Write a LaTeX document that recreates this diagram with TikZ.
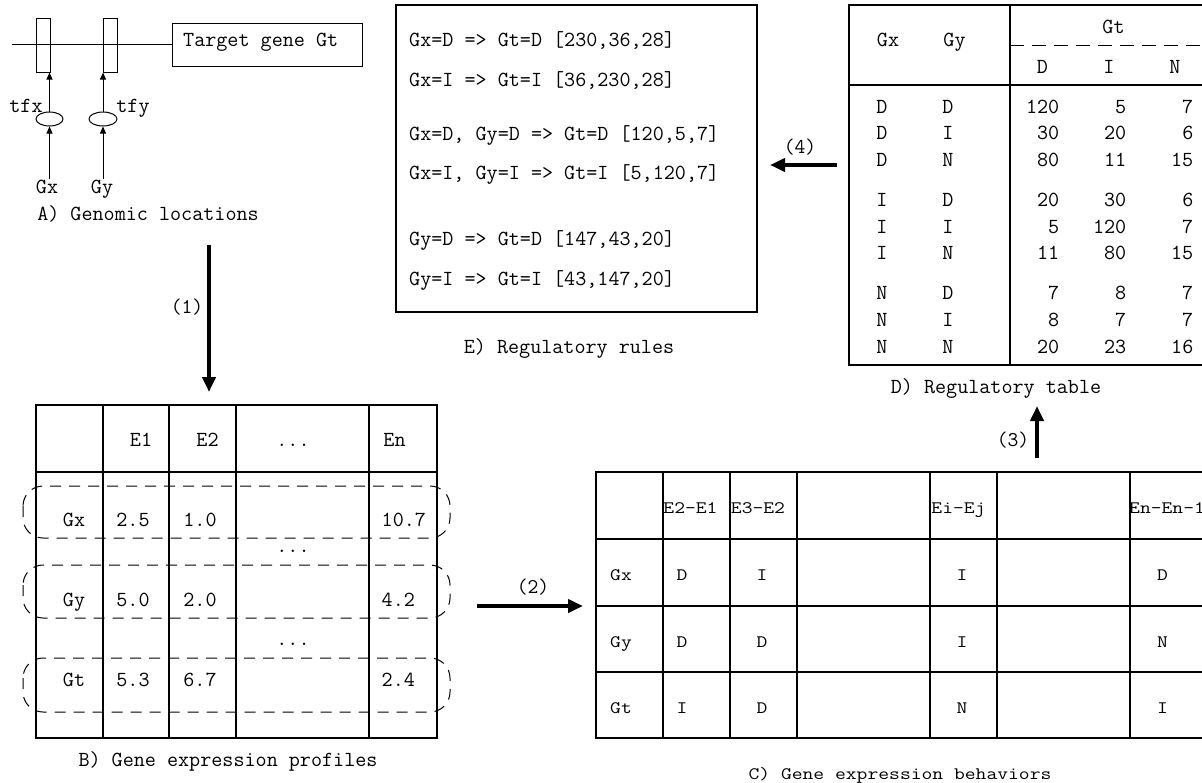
\documentclass[tikz,border=0pt]{standalone}
\usepackage{fontspec}
\setmonofont{Latin Modern Mono}
\newfontfamily\cmono[FakeStretch=1.2]{Latin Modern Mono}
\usetikzlibrary{arrows.meta,shapes.geometric}

\begin{document}
\begin{tikzpicture}[x=1pt,y=-1pt,
  lbl/.style={font=\ttfamily\fontsize{21.5}{25}\selectfont, inner sep=0pt, anchor=base},
  lblw/.style={lbl, anchor=base west},
  lble/.style={lbl, anchor=base east},
  clbl/.style={font=\cmono\fontsize{17.5}{21}\selectfont, inner sep=0pt, anchor=base},
  clblw/.style={clbl, anchor=base west},
  steplbl/.style={font=\ttfamily\fontsize{21}{25}\selectfont, inner sep=0pt, anchor=center},
  grid/.style={line width=1.3pt},
  thinline/.style={line width=1pt},
  bigarrow/.style={line width=4pt, -{Triangle[length=15pt,width=13pt]}},
  smallarrow/.style={line width=1pt, -{Triangle[length=7pt,width=6pt]}},
  rowgroup/.style={dash pattern=on 11pt off 8pt, line width=1pt, rounded corners=20pt},
  headdash/.style={dash pattern=on 14pt off 8pt, line width=1pt},
]
\useasboundingbox (0,0) rectangle (1202,782);
\fill[white] (0,0) rectangle (1202,782);
\clip (0,0) rectangle (1202,782);

% ---------- A) Genomic locations ----------
\node[draw, thinline, minimum width=190pt, minimum height=43pt, inner sep=0pt] (tgt) at (267,44.5) {};
\node[lbl] (tgtlabel) at (260.7,46) {Target gene Gt};
\coordinate (dnaL) at (12,44);
\draw[thinline] (dnaL) -- (dnaL -| tgt.west);
\node[draw, thinline, minimum width=14pt, minimum height=54pt, inner sep=0pt] (sitex) at (43,45) {};
\node[draw, thinline, minimum width=14pt, minimum height=54pt, inner sep=0pt] (sitey) at (110,45) {};
\node[draw, thinline, ellipse, minimum width=27pt, minimum height=14pt, inner sep=0pt] (tfxe) at (49.5,119) {};
\node[draw, thinline, ellipse, minimum width=28pt, minimum height=14pt, inner sep=0pt] (tfye) at (103,119) {};
\node[lbl] (tfx) at (26,112) {tfx};
\node[lbl] (tfy) at (133,112) {tfy};
\node[lbl] (gxa) at (47,193) {Gx};
\node[lbl] (gya) at (102,193) {Gy};
\draw[smallarrow] (gxa.north -| tfxe.south) -- (tfxe.south);
\draw[smallarrow] (tfxe.north) -- (tfxe.north |- sitex.south);
\draw[smallarrow] (gya.north -| tfye.south) -- (tfye.south);
\draw[smallarrow] (tfye.north) -- (tfye.north |- sitey.south);
\node[lbl] (capA) at (148,220) {A) Genomic locations};

% ---------- step (1) ----------
\coordinate (s1a) at (209,245);
\coordinate (s1b) at (209,392);
\draw[bigarrow] (s1a) -- (s1b);
\node[steplbl] (l1) at (187,307) {(1)};

% ---------- B) Gene expression profiles ----------
\draw[grid] (36,405) rectangle (437,738);
\draw[grid] (36,472) -- (437,472);
\foreach \x in {103,169,236,369} \draw[grid] (\x,405) -- (\x,738);
\draw[rowgroup] (23,486) rectangle (450,538);
\draw[rowgroup] (23,565) rectangle (450,618);
\draw[rowgroup] (23,658) rectangle (450,712);
\node[lbl] (be1) at (141,446) {E1};
\node[lbl] (be2) at (207.5,446) {E2};
\node[lbl] (bed) at (293,446) {...};
\node[lbl] (ben) at (394.5,446) {En};
\node[lbl] (bgx) at (74,526) {Gx};
\node[lbl] (bx1) at (133,526) {2.5};
\node[lbl] (bx2) at (200,526) {1.0};
\node[lblw] (bxn) at (381.5,526) {10.7};
\node[lbl] (bd1) at (293,552) {...};
\node[lbl] (bgy) at (74,606) {Gy};
\node[lbl] (by1) at (133,606) {5.0};
\node[lbl] (by2) at (200,606) {2.0};
\node[lblw] (byn) at (381.5,606) {4.2};
\node[lbl] (bd2) at (293,645) {...};
\node[lbl] (bgt) at (74,686) {Gt};
\node[lbl] (bt1) at (133,686) {5.3};
\node[lbl] (bt2) at (200,686) {6.7};
\node[lblw] (btn) at (381.5,686) {2.4};
\node[lbl] (capB) at (228,766) {B) Gene expression profiles};

% ---------- step (2) ----------
\coordinate (s2a) at (477,606);
\coordinate (s2b) at (583,606);
\draw[bigarrow] (s2a) -- (s2b);
\node[steplbl] (l2) at (533,587) {(2)};

% ---------- C) Gene expression behaviors ----------
\draw[grid] (596,472) rectangle (1215,738);
\foreach \y in {539,606,672} \draw[grid] (596,\y) -- (1215,\y);
\foreach \x in {663,730,797,930,997,1130} \draw[grid] (\x,472) -- (\x,738);
\node[clbl] (ch1) at (690.5,513) {E2-E1};
\node[clbl] (ch2) at (758,513) {E3-E2};
\node[clbl] (chi) at (958.5,513) {Ei-Ej};
\node[clblw] (chn) at (1129,513) {En-En-1};
\node[clbl] (cgx) at (621,580) {Gx};
\node[clbl] (cx1) at (682,580) {D};
\node[clbl] (cx2) at (762,580) {I};
\node[clbl] (cxi) at (962,580) {I};
\node[clbl] (cxn) at (1162.5,580) {D};
\node[clbl] (cgy) at (621,647) {Gy};
\node[clbl] (cy1) at (682,647) {D};
\node[clbl] (cy2) at (762,647) {D};
\node[clbl] (cyi) at (962,647) {I};
\node[clbl] (cyn) at (1162.5,647) {N};
\node[clbl] (cgt) at (621,713) {Gt};
\node[clbl] (ct1) at (682,713) {I};
\node[clbl] (ct2) at (762,713) {D};
\node[clbl] (cti) at (962,713) {N};
\node[clbl] (ctn) at (1162.5,713) {I};
\node[clbl] (capC) at (900,779) {C) Gene expression behaviors};

% ---------- step (3) ----------
\coordinate (s3a) at (1037,458);
\coordinate (s3b) at (1037,406);
\draw[bigarrow] (s3a) -- (s3b);
\node[steplbl] (l3) at (1013,440) {(3)};

% ---------- D) Regulatory table ----------
\draw[grid] (1215,5) -- (849,5) -- (849,365) -- (1215,365);
\draw[grid] (1010,5) -- (1010,365);
\draw[grid] (849,85) -- (1215,85);
\draw[headdash] (1010,45) -- (1215,45);
\node[lbl] (dgx) at (888,46) {Gx};
\node[lbl] (dgy) at (954.5,46) {Gy};
\node[lbl] (dgt) at (1113.5,33) {Gt};
\node[lbl] (dhd) at (1042.5,73) {D};
\node[lbl] (dhi) at (1109,73) {I};
\node[lbl] (dhn) at (1175,73) {N};
\foreach \gx/\gy/\cd/\ci/\cn/\yy [count=\k] in
  {D/D/120/5/7/113, D/I/30/20/6/139, D/N/80/11/15/166,
   I/D/20/30/6/206, I/I/5/120/7/233, I/N/11/80/15/259,
   N/D/7/8/7/299, N/I/8/7/7/326, N/N/20/23/16/353}{
  \node[lbl] (dx\k) at (882,\yy) {\gx};
  \node[lbl] (dy\k) at (948,\yy) {\gy};
  \node[lble] (dd\k) at (1059.5,\yy) {\cd};
  \node[lble] (di\k) at (1126.5,\yy) {\ci};
  \node[lble] (dn\k) at (1193.5,\yy) {\cn};
}
\node[lbl] (capD) at (996,393) {D) Regulatory table};

% ---------- step (4) ----------
\coordinate (s4a) at (837,165);
\coordinate (s4b) at (770,165);
\draw[bigarrow] (s4a) -- (s4b);
\node[steplbl] (l4) at (800,147) {(4)};

% ---------- E) Regulatory rules ----------
\draw[grid] (396,5) rectangle (757,312);
\node[lblw] (r1) at (409,46) {Gx=D => Gt=D [230,36,28]};
\node[lblw] (r2) at (409,86) {Gx=I => Gt=I [36,230,28]};
\node[lblw] (r3) at (409,140) {Gx=D, Gy=D => Gt=D [120,5,7]};
\node[lblw] (r4) at (409,179) {Gx=I, Gy=I => Gt=I [5,120,7]};
\node[lblw] (r5) at (409,245) {Gy=D => Gt=D [147,43,20]};
\node[lblw] (r6) at (409,285) {Gy=I => Gt=I [43,147,20]};
\node[lbl] (capE) at (569,353) {E) Regulatory rules};
\end{tikzpicture}
\end{document}
